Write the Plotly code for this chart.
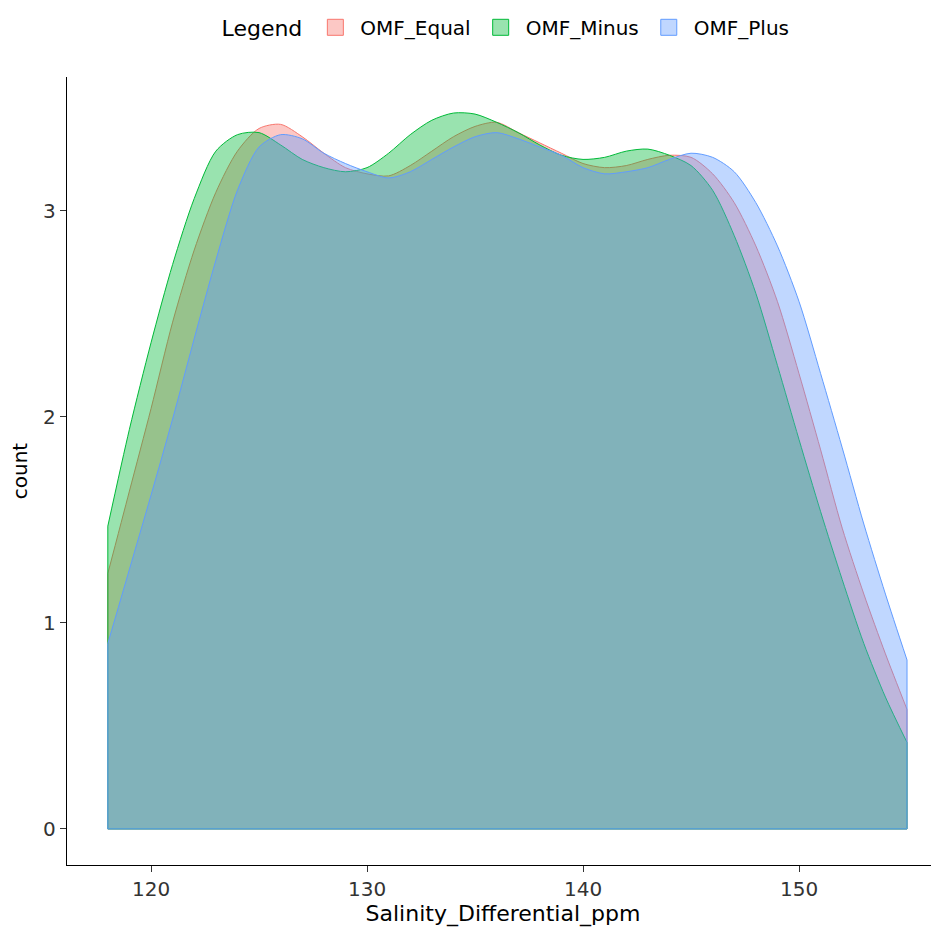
import plotly.graph_objects as go

salinity = list(range(118, 156))

omf_equal = [1.24, 1.64, 2.04, 2.46, 2.81, 3.09, 3.29, 3.40, 3.42, 3.36,
             3.28, 3.21, 3.18, 3.17, 3.22, 3.29, 3.36, 3.41, 3.43, 3.38,
             3.33, 3.28, 3.23, 3.21, 3.22, 3.25, 3.27, 3.26, 3.18, 3.04,
             2.83, 2.56, 2.21, 1.84, 1.46, 1.14, 0.85, 0.58]

omf_minus = [1.47, 1.94, 2.36, 2.74, 3.06, 3.29, 3.37, 3.38, 3.32, 3.25,
             3.21, 3.19, 3.21, 3.28, 3.37, 3.44, 3.475, 3.47, 3.43, 3.38,
             3.32, 3.27, 3.25, 3.26, 3.29, 3.30, 3.27, 3.22, 3.10, 2.88,
             2.60, 2.25, 1.89, 1.54, 1.21, 0.90, 0.64, 0.42]

omf_plus = [0.90, 1.26, 1.62, 1.99, 2.38, 2.76, 3.10, 3.31, 3.37, 3.35,
            3.28, 3.23, 3.19, 3.16, 3.19, 3.25, 3.31, 3.36, 3.38, 3.35,
            3.31, 3.27, 3.21, 3.18, 3.19, 3.21, 3.25, 3.28, 3.26, 3.19,
            3.04, 2.83, 2.56, 2.21, 1.85, 1.48, 1.14, 0.82]

series = [
    ("OMF_Equal", omf_equal, "248,118,109"),
    ("OMF_Minus", omf_minus, "0,186,56"),
    ("OMF_Plus", omf_plus, "97,156,255"),
]

fig = go.Figure()
for name, vals, rgb in series:
    fig.add_trace(go.Scatter(
        x=salinity, y=vals, name=name, mode="lines", showlegend=False,
        line=dict(color=f"rgb({rgb})", width=1, shape="spline", smoothing=0.8),
        fill="tozeroy", fillcolor=f"rgba({rgb},0.4)", hoverinfo="skip",
    ))
    # closing outline of the density polygon (right edge, baseline, left edge)
    fig.add_trace(go.Scatter(
        x=[salinity[-1], salinity[-1], salinity[0], salinity[0]],
        y=[vals[-1], 0, 0, vals[0]],
        mode="lines", showlegend=False, hoverinfo="skip",
        line=dict(color=f"rgb({rgb})", width=1),
    ))
# legend keys (square swatches like ggplot)
for name, vals, rgb in series:
    fig.add_trace(go.Scatter(
        x=[None], y=[None], name=name, mode="markers", showlegend=True,
        marker=dict(symbol="square", size=16, color=f"rgba({rgb},0.4)",
                    line=dict(color=f"rgb({rgb})", width=1)),
    ))

font_family = "DejaVu Sans, Liberation Sans, sans-serif"
fig.update_layout(
    width=931, height=919,
    margin=dict(l=59, r=0, t=69, b=62, autoexpand=False),
    paper_bgcolor="white", plot_bgcolor="white",
    font=dict(family=font_family, color="#000000"),
    showlegend=True,
    legend=dict(
        orientation="h", xref="container", x=0.536, xanchor="center",
        yref="container", y=0.979, yanchor="middle",
        title=dict(text="Legend", font=dict(size=22, color="#000000"), side="left"),
        font=dict(size=20, color="#000000"),
        itemsizing="trace", itemwidth=40,
    ),
    xaxis=dict(
        range=[116.11, 156.48], tickvals=[120, 130, 140, 150], automargin=False,
        showgrid=False, zeroline=False, showline=True, linecolor="#000000", linewidth=1.3,
        ticks="outside", ticklen=6, tickcolor="#333333",
        tickfont=dict(size=20, color="#333333"),
        title=dict(text="Salinity_Differential_ppm", font=dict(size=22), standoff=3),
    ),
    yaxis=dict(
        range=[-0.175, 3.65], tickvals=[0, 1, 2, 3], automargin=False,
        showgrid=False, zeroline=False, showline=True, linecolor="#000000", linewidth=1.3,
        ticks="outside", ticklen=6, tickcolor="#333333",
        tickfont=dict(size=20, color="#333333"),
        title=dict(text="count", font=dict(size=20), standoff=20),
    ),
)

fig.write_html("out.html")
